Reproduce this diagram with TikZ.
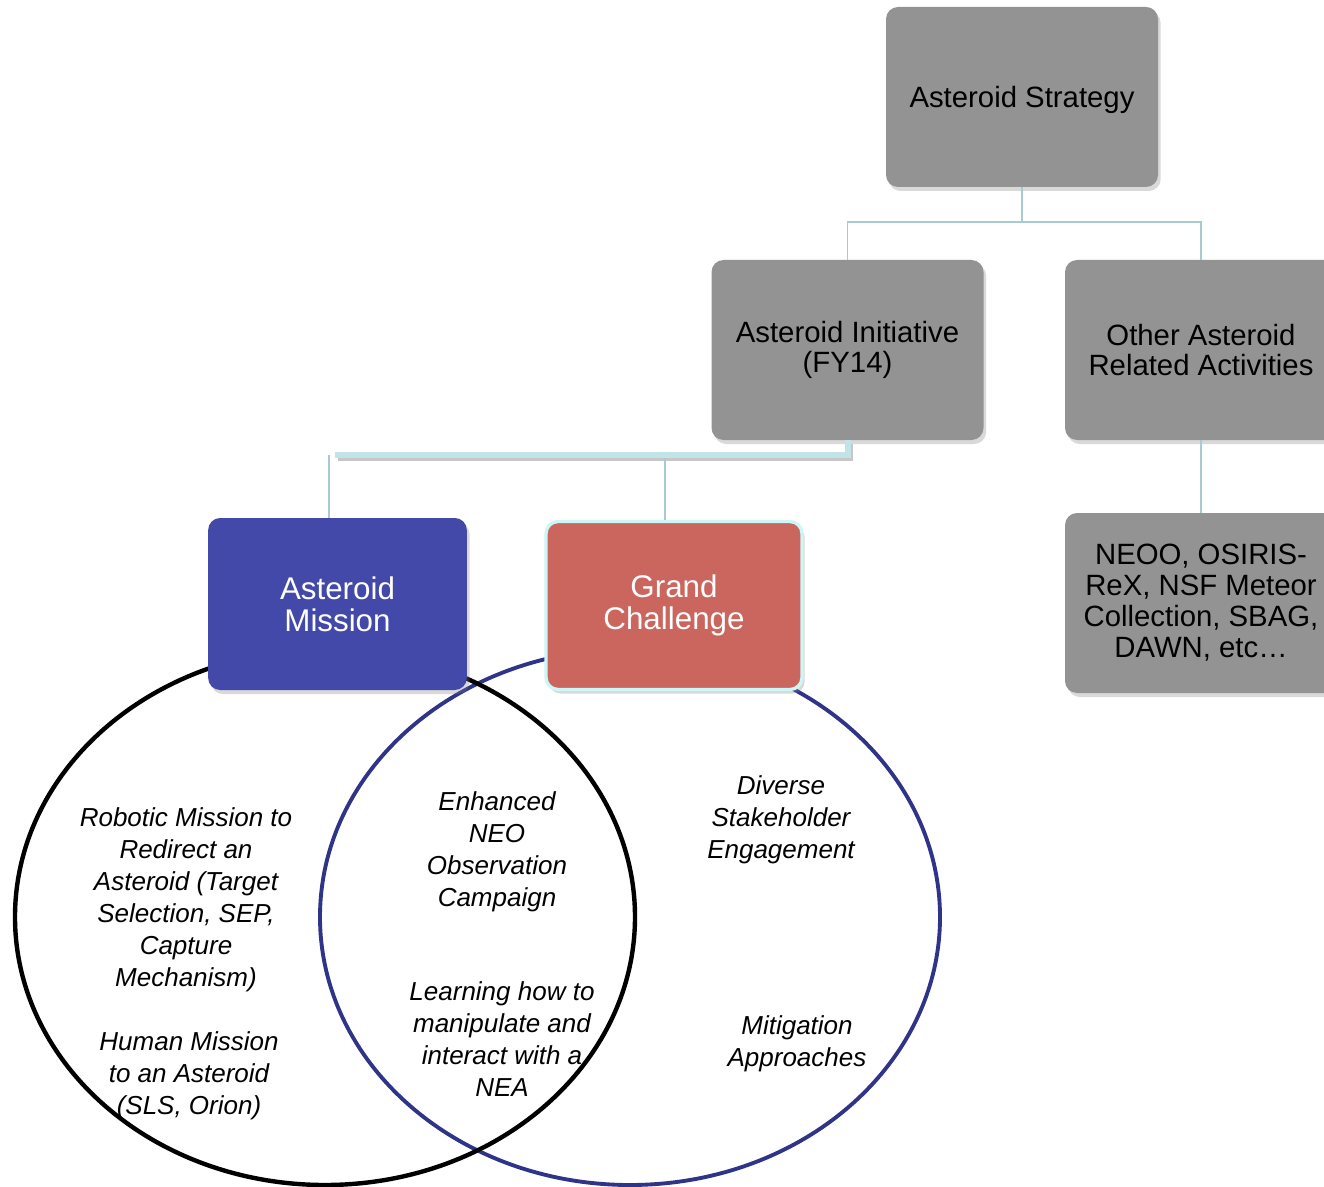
\documentclass[tikz,border=0pt]{standalone}
\usepackage{fontspec}
\setmainfont{Liberation Sans}
\usetikzlibrary{positioning, shadows}

\definecolor{boxgray}{HTML}{939393}
\definecolor{missionblue}{HTML}{4349A8}
\definecolor{challred}{HTML}{CB665F}
\definecolor{linkblue}{HTML}{A7CBD1}
\definecolor{barblue}{HTML}{C2E3E7}
\definecolor{vennblue}{HTML}{2F3489}
\definecolor{rimcyan}{HTML}{CDF6F6}

\tikzset{
  box/.style={rounded corners=9pt, fill=boxgray, minimum width=204pt, minimum height=135pt,
    align=center, font=\fontsize{22}{22.5}\selectfont,
    drop shadow={shadow xshift=2pt, shadow yshift=-3pt, opacity=0.3}},
  colbox/.style={box, minimum width=194pt, minimum height=129pt, text=white,
    font=\fontsize{23.5}{24}\selectfont},
  venntext/.style={align=center, font=\fontsize{19.5}{24}\selectfont\itshape},
  link/.style={draw=linkblue, line width=1.3pt},
}

\begin{document}
\begin{tikzpicture}[x=0.75pt, y=-0.75pt, node distance=189.75pt, on grid]
    \useasboundingbox (0,0) rectangle (1324,1187);

    % the two sets
    \draw[vennblue, line width=2.9pt] (630,917) ellipse [x radius=232.5pt, y radius=201pt];
    \draw[black, line width=3.3pt] (325,917) ellipse [x radius=232.5pt, y radius=201pt];

    % tree
    \node[box, text depth=0pt] (strategy) at (1022,97) {Asteroid Strategy};
    \node[box] (initiative) at (847.5,350) {Asteroid Initiative\\(FY14)};
    \node[box] (other) at (1201,350) {Other Asteroid\\Related Activities};
    \node[box, font=\fontsize{22}{23.2}\selectfont] (neoo) [below=of other]
        {NEOO, OSIRIS-\\ReX, NSF Meteor\\Collection, SBAG,\\DAWN, etc\ldots};
    \node[colbox, fill=missionblue] (mission) at (337.5,604) {Asteroid\\Mission};
    \node[colbox, fill=challred, draw=rimcyan, line width=2.5pt, minimum width=192pt,
          minimum height=126pt] (challenge) at (674,605.5) {Grand\\Challenge};

    \coordinate (topfork) at (1022,222);
    \coordinate (barend) at (335,455);
    \coordinate (mtap) at (329,455);
    \coordinate (gtap) at (665,458);

    \draw[link] (strategy) -- (topfork);
    \draw[link] (initiative.north) |- (topfork) -| (other.north);
    \draw[link] (other) -- (neoo);
    \draw[line width=4.5pt, black!22, transform canvas={shift={(2pt,-2.5pt)}}]
        (initiative.south) |- (barend);
    \draw[line width=4.5pt, barblue] (initiative.south) |- (barend);
    \draw[link] (mtap) -- (mtap |- mission.north);
    \draw[link] (gtap) -- (gtap |- challenge.north);

    % set contents
    \node[venntext] (robotic) at (186,900)
        {Robotic Mission to\\Redirect an\\Asteroid (Target\\Selection, SEP,\\Capture\\Mechanism)};
    \node[venntext] (human) at (189,1076) {Human Mission\\to an Asteroid\\(SLS, Orion)};
    \node[venntext] (neocamp) at (497,852) {Enhanced\\NEO\\Observation\\Campaign};
    \node[venntext] (learning) at (502,1039)
        {Learning how to\\manipulate and\\interact with a\\NEA};
    \node[venntext] (stake) at (781,820) {Diverse\\Stakeholder\\Engagement};
    \node[venntext] (mitig) at (797,1044) {Mitigation\\Approaches};
\end{tikzpicture}
\end{document}
